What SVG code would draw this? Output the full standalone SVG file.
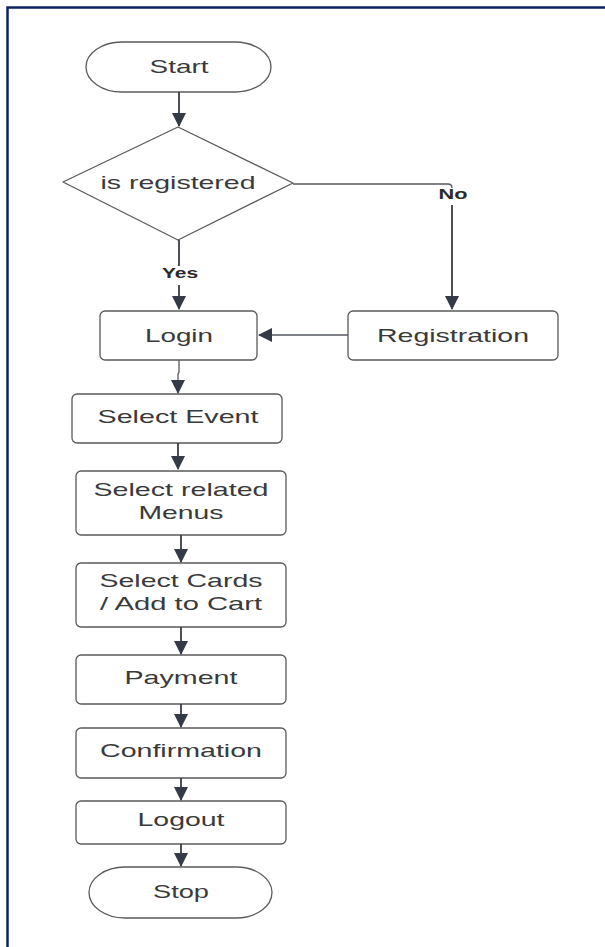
<svg xmlns="http://www.w3.org/2000/svg" width="605" height="947" viewBox="0 0 605 947">
  <defs>
    <style>
      .box { fill: #ffffff; stroke: #5a5a5a; stroke-width: 1.3; }
      .lbl { font-family: "Liberation Sans", Arial, sans-serif; font-size: 19px; fill: #3a3a3a; text-anchor: middle; }
      .edge { font-family: "Liberation Sans", Arial, sans-serif; font-size: 14px; font-weight: bold; fill: #2a2a2a; text-anchor: middle; }
      .conn { fill: none; stroke: #3a3e47; stroke-width: 1.8; }
      .connthin { fill: none; stroke: #555a62; stroke-width: 1.3; }
      .frame { stroke: #0d2360; stroke-width: 2.5; fill: none; }
    </style>
    <marker id="arr" markerUnits="userSpaceOnUse" markerWidth="14" markerHeight="14" refX="13" refY="7" orient="auto">
      <path d="M0,0 L14,7 L0,14 Z" fill="#343a46"/>
    </marker>
  </defs>

  <rect x="0" y="0" width="605" height="947" fill="#ffffff"/>
  <path class="frame" d="M7.5,947 V7.5 H605"/>

  <g id="start">
    <rect class="box" x="86" y="42" width="185" height="50" rx="36" ry="25"/>
    <text class="lbl" x="179" y="73" textLength="59" lengthAdjust="spacingAndGlyphs">Start</text>
  </g>

  <g id="decision">
    <path class="box" stroke-linejoin="round" d="M178,127 L293,183 L178,240 L63,182 Z"/>
    <text class="lbl" x="178" y="189" textLength="155" lengthAdjust="spacingAndGlyphs">is registered</text>
  </g>

  <g id="login">
    <rect class="box" x="100" y="311" width="157" height="49" rx="5"/>
    <text class="lbl" x="179" y="342" textLength="68" lengthAdjust="spacingAndGlyphs">Login</text>
  </g>

  <g id="registration">
    <rect class="box" x="348" y="311" width="210" height="49" rx="5"/>
    <text class="lbl" x="453" y="342" textLength="152" lengthAdjust="spacingAndGlyphs">Registration</text>
  </g>

  <g id="select-event">
    <rect class="box" x="72" y="394" width="210" height="49" rx="5"/>
    <text class="lbl" x="178" y="423" textLength="161" lengthAdjust="spacingAndGlyphs">Select Event</text>
  </g>

  <g id="select-menus">
    <rect class="box" x="76" y="471" width="210" height="64" rx="5"/>
    <text class="lbl" x="181" y="496" textLength="175" lengthAdjust="spacingAndGlyphs">Select related</text>
    <text class="lbl" x="181" y="519" textLength="85" lengthAdjust="spacingAndGlyphs">Menus</text>
  </g>

  <g id="select-cards">
    <rect class="box" x="76" y="563" width="210" height="64" rx="5"/>
    <text class="lbl" x="181" y="587" textLength="163" lengthAdjust="spacingAndGlyphs">Select Cards</text>
    <text class="lbl" x="181" y="610" textLength="162" lengthAdjust="spacingAndGlyphs">/ Add to Cart</text>
  </g>

  <g id="payment">
    <rect class="box" x="76" y="655" width="210" height="49" rx="5"/>
    <text class="lbl" x="181" y="684" textLength="113" lengthAdjust="spacingAndGlyphs">Payment</text>
  </g>

  <g id="confirmation">
    <rect class="box" x="76" y="728" width="210" height="50" rx="5"/>
    <text class="lbl" x="181" y="757" textLength="162" lengthAdjust="spacingAndGlyphs">Confirmation</text>
  </g>

  <g id="logout">
    <rect class="box" x="76" y="801" width="210" height="43" rx="5"/>
    <text class="lbl" x="181" y="826" textLength="87" lengthAdjust="spacingAndGlyphs">Logout</text>
  </g>

  <g id="stop">
    <rect class="box" x="89" y="867" width="183" height="51" rx="36" ry="25.5"/>
    <text class="lbl" x="181" y="898" textLength="56" lengthAdjust="spacingAndGlyphs">Stop</text>
  </g>

  <g id="connectors">
    <path class="conn" d="M179,92 V126" marker-end="url(#arr)"/>
    <path class="conn" d="M179,240 V266"/>
    <text class="edge" x="180" y="278" textLength="36" lengthAdjust="spacingAndGlyphs">Yes</text>
    <path class="conn" d="M179,285 V309" marker-end="url(#arr)"/>
    <path class="connthin" d="M293,184 H448 Q452,184 452,188"/>
    <text class="edge" x="453" y="199" textLength="29" lengthAdjust="spacingAndGlyphs">No</text>
    <path class="conn" d="M452,205 V309" marker-end="url(#arr)"/>
    <path class="connthin" d="M348,335 H259" marker-end="url(#arr)"/>
    <path class="connthin" d="M179,360 V372 L178,374 V393" marker-end="url(#arr)"/>
    <path class="conn" d="M178,443 V469" marker-end="url(#arr)"/>
    <path class="conn" d="M181,535 V562" marker-end="url(#arr)"/>
    <path class="conn" d="M181,627 V654" marker-end="url(#arr)"/>
    <path class="conn" d="M181,704 V727" marker-end="url(#arr)"/>
    <path class="conn" d="M181,778 V800" marker-end="url(#arr)"/>
    <path class="conn" d="M181,844 V866" marker-end="url(#arr)"/>
  </g>
</svg>
